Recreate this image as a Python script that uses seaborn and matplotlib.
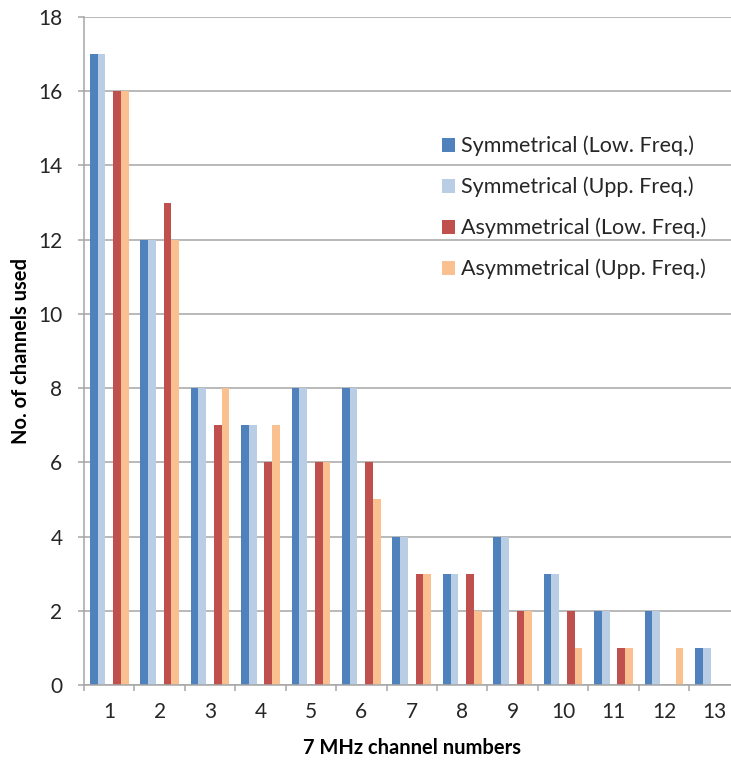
import numpy as np
import pandas as pd
import matplotlib
matplotlib.use("Agg")
import matplotlib.pyplot as plt
import seaborn as sns

# Channel usage per 7 MHz channel number
channels = [str(i) for i in range(1, 14)]
sym_low = [17, 12, 8, 7, 8, 8, 4, 3, 4, 3, 2, 2, 1]
sym_upp = [17, 12, 8, 7, 8, 8, 4, 3, 4, 3, 2, 2, 1]
asym_low = [16, 13, 7, 6, 6, 6, 3, 3, 2, 2, 1, 0, 0]
asym_upp = [16, 12, 8, 7, 6, 5, 3, 2, 2, 1, 1, 1, 0]

series_names = [
    "Symmetrical (Low. Freq.)",
    "Symmetrical (Upp. Freq.)",
    "Asymmetrical (Low. Freq.)",
    "Asymmetrical (Upp. Freq.)",
]
series_colors = ["#4F81BD", "#B9CDE5", "#C0504D", "#FAC090"]
spacer = "_spacer"

rows = []
for name, vals in zip(series_names[:2], [sym_low, sym_upp]):
    rows += [(c, name, v) for c, v in zip(channels, vals)]
rows += [(c, spacer, 0) for c in channels]
for name, vals in zip(series_names[2:], [asym_low, asym_upp]):
    rows += [(c, name, v) for c, v in zip(channels, vals)]
df = pd.DataFrame(rows, columns=["channel", "series", "count"])

hue_order = series_names[:2] + [spacer] + series_names[2:]
palette = dict(zip(series_names, series_colors))
palette[spacer] = "#FFFFFF"

sns.set_theme(style="white")
plt.rcParams["font.family"] = ["Lato", "DejaVu Sans"]

fig = plt.figure(figsize=(7.31, 7.62), dpi=100)
ax = fig.add_axes([84 / 731, 1 - 685 / 762, (739.6 - 84) / 731, (685 - 17) / 762])

sns.barplot(data=df, x="channel", y="count", hue="series", hue_order=hue_order,
            order=channels, palette=palette, width=5 / 6.5, linewidth=0,
            edgecolor="none", saturation=1, ax=ax, legend=True)

grid_col = "#A6A6A6"
ax.set_ylim(0, 18)
ax.set_yticks(np.arange(0, 19, 2))
ax.set_xlim(-0.5, len(channels) - 0.5)
ax.set_axisbelow(True)
ax.yaxis.grid(True, color=grid_col, linewidth=1.1)
ax.xaxis.grid(False)
for s in ["top", "right"]:
    ax.spines[s].set_visible(False)
for s in ["left", "bottom"]:
    ax.spines[s].set_color(grid_col)
    ax.spines[s].set_linewidth(1.1)

tick_fs = 15
ax.set_xticks(np.arange(-0.5, len(channels), 1.0), minor=True)
ax.tick_params(axis="x", which="major", length=0, pad=12, labelsize=tick_fs, labelcolor="#262626")
ax.tick_params(axis="x", which="minor", direction="out", length=4.5, width=1.1, color=grid_col, bottom=True)
ax.tick_params(axis="y", which="major", direction="out", length=4.5, width=1.1, color=grid_col,
               left=True, pad=11, labelsize=tick_fs, labelcolor="#262626")

ax.set_xlabel("7 MHz channel numbers", fontsize=14.5, fontweight="bold", color="#000000", labelpad=12)
ax.set_ylabel("No. of channels used", fontsize=14.5, fontweight="bold", color="#000000", labelpad=5)

handles, labels = ax.get_legend_handles_labels()
keep = [(h, l) for h, l in zip(handles, labels) if l != spacer]
ax.legend([h for h, _ in keep], [l for _, l in keep], frameon=False,
          loc="upper left", bbox_to_anchor=(431 / 731, 1 - 125 / 762),
          bbox_transform=fig.transFigure, fontsize=15.5, handlelength=0.6,
          handleheight=0.6, handletextpad=0.3, labelspacing=0.95, borderpad=0,
          labelcolor="#262626")

fig.savefig("out.png", dpi=100)
